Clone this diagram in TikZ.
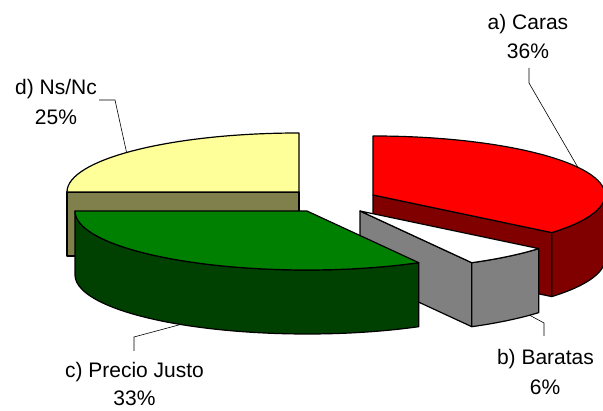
\documentclass[tikz,border=0pt]{standalone}
\usepackage{fontspec}
\setmainfont{Liberation Sans}
\usetikzlibrary{calc}
\definecolor{cred}{HTML}{FF0000}
\definecolor{cdred}{HTML}{800000}
\definecolor{cgrey}{HTML}{808080}
\definecolor{cgreen}{HTML}{008000}
\definecolor{cdgreen}{HTML}{004000}
\definecolor{cyellow}{HTML}{FFFF99}
\definecolor{colive}{HTML}{80804C}
\begin{document}
\begin{tikzpicture}[x=1pt,y=1pt,
  face/.style={draw=black, line width=1.2pt, line join=round},
  leader/.style={draw=black, line width=0.6pt},
  lbl/.style={font=\fontsize{21}{25}\selectfont, anchor=base, inner sep=0pt},
  ell/.style={x radius=232pt, y radius=59pt}]
\useasboundingbox (0,0) rectangle (603,411);
\clip (0,0) rectangle (603,411);
% centres
\coordinate (Yc) at (299,219);
\coordinate (Rc) at (373,216);
\coordinate (Bc) at (360,200);
\coordinate (Gc) at (307,200);
% ---- d) yellow slice
\draw[face, fill=colive] ($(Yc)+(-232,0)$) rectangle ($(Yc)+(0,-64)$);
\draw[face, fill=cyellow] (Yc) -- ($(Yc)+(-232,0)$) arc[start angle=180, end angle=90, ell] -- cycle;
% ---- a) red slice
\draw[face, fill=cdred] (Rc) -- ($(Rc)+(-39.6:232pt and 59pt)$) -- ++(0,-64) -- ($(Rc)+(0,-64)$) -- cycle;
\draw[face, fill=cdred] ($(Rc)+(-39.6:232pt and 59pt)$) arc[start angle=-39.6, end angle=0, ell] -- ++(0,-64) arc[start angle=0, end angle=-39.6, ell] -- cycle;
\draw[face, fill=cred] (Rc) -- ($(Rc)+(0,59)$) arc[start angle=90, end angle=-39.6, ell] -- cycle;
% ---- b) white/grey slice
\draw[face, fill=cgrey] (Bc) -- ($(Bc)+(-61.2:232pt and 59pt)$) -- ++(0,-64) -- ($(Bc)+(0,-64)$) -- cycle;
\draw[face, fill=cgrey] ($(Bc)+(-61.2:232pt and 59pt)$) arc[start angle=-61.2, end angle=-39.6, ell] -- ++(0,-64) arc[start angle=-39.6, end angle=-61.2, ell] -- cycle;
\draw[face, fill=white] (Bc) -- ($(Bc)+(-61.2:232pt and 59pt)$) arc[start angle=-61.2, end angle=-39.6, ell] -- cycle;
% ---- c) green slice
\draw[face, fill=cdgreen] ($(Gc)+(-232,0)$) arc[start angle=180, end angle=298.8, ell] -- ++(0,-64) arc[start angle=298.8, end angle=180, ell] -- cycle;
\draw[face, fill=cgreen] (Gc) -- ($(Gc)+(-232,0)$) arc[start angle=180, end angle=298.8, ell] -- cycle;
% ---- labels
\node[lbl] (la1) at (528,381) {a) Caras};
\node[lbl] (la2) at (528,352) {36\%};
\node[lbl] (ld1) at (56,316) {d) Ns/Nc};
\node[lbl] (ld2) at (56,286) {25\%};
\node[lbl] (lc1) at (134.5,33) {c) Precio Justo};
\node[lbl] (lc2) at (134.5,5) {33\%};
\node[lbl] (lb1) at (545.5,46) {b) Baratas};
\node[lbl] (lb2) at (545,16) {6\%};
% ---- leaders
\coordinate (pa1) at (529,343);
\coordinate (pa2) at (529,328);
\coordinate (pa3) at ($(Rc)+(28:232pt and 59pt)$);
\draw[leader] (pa1) -- (pa2) -- (pa3);
\coordinate (pd1) at (99,311);
\coordinate (pd2) at (115,311);
\coordinate (pd3) at ($(Yc)+(138:232pt and 59pt)$);
\draw[leader] (pd1) -- (pd2) -- (pd3);
\coordinate (pc1) at (134,60);
\coordinate (pc2) at (134,74);
\coordinate (pc3) at ($(Gc)+(0,-64)+(237:232pt and 59pt)$);
\draw[leader] (pc1) -- (pc2) -- (pc3);
\coordinate (pb1) at (544,75);
\coordinate (pb2) at (544,88);
\coordinate (pb3) at ($(Bc)+(0,-64)+(-43:232pt and 59pt)$);
\draw[leader] (pb1) -- (pb2) -- (pb3);
\end{tikzpicture}
\end{document}
